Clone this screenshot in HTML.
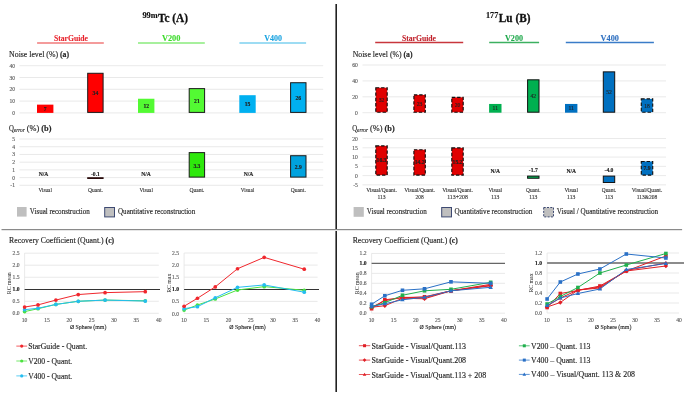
<!DOCTYPE html>
<html><head><meta charset="utf-8"><style>
html,body{margin:0;padding:0;background:#fff;overflow:hidden;}
svg{display:block;font-family:"Liberation Serif", serif;will-change:transform;}
</style></head><body>
<svg width="685" height="394" viewBox="0 0 685 394">
<rect width="685" height="394" fill="#fff"/>
<line x1="336.20" y1="4.00" x2="336.20" y2="392.00" stroke="#222" stroke-width="1.6" />
<line x1="1.50" y1="229.50" x2="682.10" y2="229.50" stroke="#8a8a8a" stroke-width="1" />
<line x1="1.50" y1="230.50" x2="682.10" y2="230.50" stroke="#e6e6e6" stroke-width="1" />
<text x="142.40" y="17.60" font-size="7.3" text-anchor="start" font-weight="bold" fill="#111"  textLength="15.20" lengthAdjust="spacingAndGlyphs" stroke="#111" stroke-width="0.15">99m</text>
<text x="158.00" y="21.50" font-size="11.6" text-anchor="start" font-weight="bold" fill="#111"  textLength="30.00" lengthAdjust="spacingAndGlyphs" stroke="#111" stroke-width="0.3">Tc (A)</text>
<text x="53.90" y="40.90" font-size="7.8" text-anchor="start" font-weight="bold" fill="#e8222b"  textLength="34.10" lengthAdjust="spacingAndGlyphs" stroke="#e8222b" stroke-width="0.08">StarGuide</text>
<line x1="37.10" y1="43.00" x2="103.80" y2="43.00" stroke="#f07a7a" stroke-width="1.6" />
<text x="161.90" y="40.90" font-size="7.8" text-anchor="start" font-weight="bold" fill="#3fdb2e"  textLength="18.60" lengthAdjust="spacingAndGlyphs" stroke="#3fdb2e" stroke-width="0.08">V200</text>
<line x1="138.00" y1="43.00" x2="204.80" y2="43.00" stroke="#8aeb7d" stroke-width="1.6" />
<text x="264.20" y="40.90" font-size="7.8" text-anchor="start" font-weight="bold" fill="#1aa3e0"  textLength="17.80" lengthAdjust="spacingAndGlyphs" stroke="#1aa3e0" stroke-width="0.08">V400</text>
<line x1="239.40" y1="43.00" x2="306.10" y2="43.00" stroke="#7dd0ef" stroke-width="1.6" />
<text x="9.10" y="56.60" font-size="8.2" text-anchor="start" font-weight="normal" fill="#262626"  textLength="60.00" lengthAdjust="spacingAndGlyphs" stroke="#262626" stroke-width="0.15">Noise level (%) <tspan font-weight="bold">(a)</tspan></text>
<line x1="19.50" y1="112.90" x2="323.20" y2="112.90" stroke="#e3e3e3" stroke-width="0.8" />
<text x="15.00" y="114.90" font-size="5.6" text-anchor="end" font-weight="normal" fill="#595959"  stroke="#595959" stroke-width="0.12">0</text>
<line x1="19.50" y1="101.10" x2="323.20" y2="101.10" stroke="#e3e3e3" stroke-width="0.8" />
<text x="15.00" y="103.10" font-size="5.6" text-anchor="end" font-weight="normal" fill="#595959"  stroke="#595959" stroke-width="0.12">10</text>
<line x1="19.50" y1="89.30" x2="323.20" y2="89.30" stroke="#e3e3e3" stroke-width="0.8" />
<text x="15.00" y="91.30" font-size="5.6" text-anchor="end" font-weight="normal" fill="#595959"  stroke="#595959" stroke-width="0.12">20</text>
<line x1="19.50" y1="77.50" x2="323.20" y2="77.50" stroke="#e3e3e3" stroke-width="0.8" />
<text x="15.00" y="79.50" font-size="5.6" text-anchor="end" font-weight="normal" fill="#595959"  stroke="#595959" stroke-width="0.12">30</text>
<line x1="19.50" y1="65.70" x2="323.20" y2="65.70" stroke="#e3e3e3" stroke-width="0.8" />
<text x="15.00" y="67.70" font-size="5.6" text-anchor="end" font-weight="normal" fill="#595959"  stroke="#595959" stroke-width="0.12">40</text>
<rect x="37.00" y="104.64" width="16.40" height="8.26" fill="#ff0000"/>
<text x="45.20" y="110.77" font-size="5.6" text-anchor="middle" font-weight="bold" fill="#222"  stroke="#222" stroke-width="0.15">7</text>
<rect x="87.70" y="73.28" width="15.40" height="39.12" fill="#ff0000" stroke="#1a1a1a" stroke-width="1"/>
<text x="95.40" y="94.84" font-size="5.6" text-anchor="middle" font-weight="bold" fill="#222"  stroke="#222" stroke-width="0.15">34</text>
<rect x="138.00" y="98.74" width="16.40" height="14.16" fill="#53fa33"/>
<text x="146.20" y="107.82" font-size="5.6" text-anchor="middle" font-weight="bold" fill="#222"  stroke="#222" stroke-width="0.15">12</text>
<rect x="189.20" y="88.62" width="15.40" height="23.78" fill="#53fa33" stroke="#1a1a1a" stroke-width="1"/>
<text x="196.90" y="102.51" font-size="5.6" text-anchor="middle" font-weight="bold" fill="#222"  stroke="#222" stroke-width="0.15">21</text>
<rect x="239.30" y="95.20" width="16.40" height="17.70" fill="#00b0f0"/>
<text x="247.50" y="106.05" font-size="5.6" text-anchor="middle" font-weight="bold" fill="#222"  stroke="#222" stroke-width="0.15">15</text>
<rect x="290.60" y="82.72" width="15.40" height="29.68" fill="#00b0f0" stroke="#1a1a1a" stroke-width="1"/>
<text x="298.30" y="99.56" font-size="5.6" text-anchor="middle" font-weight="bold" fill="#222"  stroke="#222" stroke-width="0.15">26</text>
<text x="9.00" y="130.90" font-size="7.8" text-anchor="start" font-weight="normal" fill="#262626"  textLength="4.90" lengthAdjust="spacingAndGlyphs" stroke="#262626" stroke-width="0.15">Q</text>
<text x="13.80" y="131.80" font-size="5.2" text-anchor="start" font-weight="normal" fill="#262626" font-style="italic" textLength="10.90" lengthAdjust="spacingAndGlyphs" stroke="#262626" stroke-width="0.12">error</text>
<text x="26.80" y="130.90" font-size="7.8" text-anchor="start" font-weight="normal" fill="#262626"  textLength="24.60" lengthAdjust="spacingAndGlyphs" stroke="#262626" stroke-width="0.15">(%) <tspan font-weight="bold">(b)</tspan></text>
<line x1="19.50" y1="185.32" x2="323.20" y2="185.32" stroke="#e3e3e3" stroke-width="0.8" />
<text x="15.00" y="187.32" font-size="5.6" text-anchor="end" font-weight="normal" fill="#595959"  stroke="#595959" stroke-width="0.12">-1</text>
<line x1="19.50" y1="177.60" x2="323.20" y2="177.60" stroke="#e3e3e3" stroke-width="0.8" />
<text x="15.00" y="179.60" font-size="5.6" text-anchor="end" font-weight="normal" fill="#595959"  stroke="#595959" stroke-width="0.12">0</text>
<line x1="19.50" y1="169.88" x2="323.20" y2="169.88" stroke="#e3e3e3" stroke-width="0.8" />
<text x="15.00" y="171.88" font-size="5.6" text-anchor="end" font-weight="normal" fill="#595959"  stroke="#595959" stroke-width="0.12">1</text>
<line x1="19.50" y1="162.16" x2="323.20" y2="162.16" stroke="#e3e3e3" stroke-width="0.8" />
<text x="15.00" y="164.16" font-size="5.6" text-anchor="end" font-weight="normal" fill="#595959"  stroke="#595959" stroke-width="0.12">2</text>
<line x1="19.50" y1="154.44" x2="323.20" y2="154.44" stroke="#e3e3e3" stroke-width="0.8" />
<text x="15.00" y="156.44" font-size="5.6" text-anchor="end" font-weight="normal" fill="#595959"  stroke="#595959" stroke-width="0.12">3</text>
<line x1="19.50" y1="146.72" x2="323.20" y2="146.72" stroke="#e3e3e3" stroke-width="0.8" />
<text x="15.00" y="148.72" font-size="5.6" text-anchor="end" font-weight="normal" fill="#595959"  stroke="#595959" stroke-width="0.12">4</text>
<line x1="19.50" y1="139.00" x2="323.20" y2="139.00" stroke="#e3e3e3" stroke-width="0.8" />
<text x="15.00" y="141.00" font-size="5.6" text-anchor="end" font-weight="normal" fill="#595959"  stroke="#595959" stroke-width="0.12">5</text>
<text x="43.50" y="175.60" font-size="5.6" text-anchor="middle" font-weight="bold" fill="#222"  textLength="9.60" lengthAdjust="spacingAndGlyphs" stroke="#222" stroke-width="0.15">N/A</text>
<rect x="87.20" y="177.20" width="16.40" height="1.80" fill="#2a0c0c"/>
<text x="95.40" y="175.70" font-size="5.6" text-anchor="middle" font-weight="bold" fill="#222"  stroke="#222" stroke-width="0.15">-0.1</text>
<text x="146.10" y="175.60" font-size="5.6" text-anchor="middle" font-weight="bold" fill="#222"  textLength="9.60" lengthAdjust="spacingAndGlyphs" stroke="#222" stroke-width="0.15">N/A</text>
<rect x="189.20" y="152.62" width="15.40" height="24.48" fill="#2ee80c" stroke="#1a1a1a" stroke-width="1"/>
<text x="196.90" y="167.76" font-size="5.6" text-anchor="middle" font-weight="bold" fill="#222"  stroke="#222" stroke-width="0.15">3.3</text>
<text x="248.50" y="175.60" font-size="5.6" text-anchor="middle" font-weight="bold" fill="#222"  textLength="9.60" lengthAdjust="spacingAndGlyphs" stroke="#222" stroke-width="0.15">N/A</text>
<rect x="290.60" y="155.71" width="15.40" height="21.39" fill="#00a2de" stroke="#1a1a1a" stroke-width="1"/>
<text x="298.30" y="168.51" font-size="5.6" text-anchor="middle" font-weight="bold" fill="#222"  stroke="#222" stroke-width="0.15">2.9</text>
<text x="45.20" y="191.70" font-size="5.9" text-anchor="middle" font-weight="normal" fill="#333"  textLength="13.30" lengthAdjust="spacingAndGlyphs" stroke="#333" stroke-width="0.12">Visual</text>
<text x="95.40" y="191.70" font-size="5.9" text-anchor="middle" font-weight="normal" fill="#333"  textLength="15.00" lengthAdjust="spacingAndGlyphs" stroke="#333" stroke-width="0.12">Quant.</text>
<text x="146.20" y="191.70" font-size="5.9" text-anchor="middle" font-weight="normal" fill="#333"  textLength="13.30" lengthAdjust="spacingAndGlyphs" stroke="#333" stroke-width="0.12">Visual</text>
<text x="196.90" y="191.70" font-size="5.9" text-anchor="middle" font-weight="normal" fill="#333"  textLength="15.00" lengthAdjust="spacingAndGlyphs" stroke="#333" stroke-width="0.12">Quant.</text>
<text x="247.50" y="191.70" font-size="5.9" text-anchor="middle" font-weight="normal" fill="#333"  textLength="13.30" lengthAdjust="spacingAndGlyphs" stroke="#333" stroke-width="0.12">Visual</text>
<text x="298.30" y="191.70" font-size="5.9" text-anchor="middle" font-weight="normal" fill="#333"  textLength="15.00" lengthAdjust="spacingAndGlyphs" stroke="#333" stroke-width="0.12">Quant.</text>
<rect x="17.00" y="207.00" width="9.60" height="9.60" fill="#bfbfbf"/>
<text x="29.80" y="214.40" font-size="8.0" text-anchor="start" font-weight="normal" fill="#262626"  textLength="60.00" lengthAdjust="spacingAndGlyphs" stroke="#262626" stroke-width="0.15">Visual reconstruction</text>
<rect x="104.70" y="207.50" width="9.80" height="9.40" fill="#bfbfbf" stroke="#3e4a72" stroke-width="1"/>
<text x="118.00" y="214.40" font-size="8.0" text-anchor="start" font-weight="normal" fill="#262626"  textLength="77.20" lengthAdjust="spacingAndGlyphs" stroke="#262626" stroke-width="0.15">Quantitative reconstruction</text>
<text x="486.00" y="17.60" font-size="7.3" text-anchor="start" font-weight="bold" fill="#111"  textLength="12.20" lengthAdjust="spacingAndGlyphs" stroke="#111" stroke-width="0.15">177</text>
<text x="498.80" y="21.50" font-size="11.6" text-anchor="start" font-weight="bold" fill="#111"  textLength="31.60" lengthAdjust="spacingAndGlyphs" stroke="#111" stroke-width="0.3">Lu (B)</text>
<text x="401.90" y="40.90" font-size="7.8" text-anchor="start" font-weight="bold" fill="#c0202a"  textLength="34.10" lengthAdjust="spacingAndGlyphs" stroke="#c0202a" stroke-width="0.08">StarGuide</text>
<line x1="375.20" y1="42.50" x2="463.20" y2="42.50" stroke="#c8363c" stroke-width="1.6" />
<text x="505.00" y="40.90" font-size="7.8" text-anchor="start" font-weight="bold" fill="#21a94d"  textLength="18.00" lengthAdjust="spacingAndGlyphs" stroke="#21a94d" stroke-width="0.08">V200</text>
<line x1="489.20" y1="42.50" x2="539.10" y2="42.50" stroke="#3cb060" stroke-width="1.6" />
<text x="600.60" y="40.90" font-size="7.8" text-anchor="start" font-weight="bold" fill="#2d6fc0"  textLength="18.40" lengthAdjust="spacingAndGlyphs" stroke="#2d6fc0" stroke-width="0.08">V400</text>
<line x1="565.80" y1="42.50" x2="653.90" y2="42.50" stroke="#3a7cc8" stroke-width="1.6" />
<text x="352.70" y="56.60" font-size="8.2" text-anchor="start" font-weight="normal" fill="#262626"  textLength="59.90" lengthAdjust="spacingAndGlyphs" stroke="#262626" stroke-width="0.15">Noise level (%) <tspan font-weight="bold">(a)</tspan></text>
<line x1="362.50" y1="112.70" x2="666.00" y2="112.70" stroke="#e3e3e3" stroke-width="0.8" />
<text x="357.80" y="114.70" font-size="5.6" text-anchor="end" font-weight="normal" fill="#595959"  stroke="#595959" stroke-width="0.12">0</text>
<line x1="362.50" y1="96.80" x2="666.00" y2="96.80" stroke="#e3e3e3" stroke-width="0.8" />
<text x="357.80" y="98.80" font-size="5.6" text-anchor="end" font-weight="normal" fill="#595959"  stroke="#595959" stroke-width="0.12">20</text>
<line x1="362.50" y1="80.90" x2="666.00" y2="80.90" stroke="#e3e3e3" stroke-width="0.8" />
<text x="357.80" y="82.90" font-size="5.6" text-anchor="end" font-weight="normal" fill="#595959"  stroke="#595959" stroke-width="0.12">40</text>
<line x1="362.50" y1="65.00" x2="666.00" y2="65.00" stroke="#e3e3e3" stroke-width="0.8" />
<text x="357.80" y="67.00" font-size="5.6" text-anchor="end" font-weight="normal" fill="#595959"  stroke="#595959" stroke-width="0.12">60</text>
<rect x="375.80" y="87.76" width="11.40" height="24.44" fill="#e00000" stroke="#111" stroke-width="1.15" stroke-dasharray="3.4,1.9"/>
<text x="381.50" y="101.98" font-size="5.6" text-anchor="middle" font-weight="normal" fill="#222"  stroke="#222" stroke-width="0.12">32</text>
<rect x="413.90" y="94.92" width="11.40" height="17.29" fill="#e00000" stroke="#111" stroke-width="1.15" stroke-dasharray="3.4,1.9"/>
<text x="419.60" y="105.56" font-size="5.6" text-anchor="middle" font-weight="normal" fill="#222"  stroke="#222" stroke-width="0.12">23</text>
<rect x="451.80" y="97.30" width="11.40" height="14.90" fill="#e00000" stroke="#111" stroke-width="1.15" stroke-dasharray="3.4,1.9"/>
<text x="457.50" y="106.75" font-size="5.6" text-anchor="middle" font-weight="normal" fill="#222"  stroke="#222" stroke-width="0.12">20</text>
<rect x="489.10" y="103.95" width="12.40" height="8.75" fill="#00b050"/>
<text x="495.30" y="110.33" font-size="5.6" text-anchor="middle" font-weight="normal" fill="#222"  stroke="#222" stroke-width="0.12">11</text>
<rect x="527.60" y="79.81" width="11.40" height="32.39" fill="#00b050" stroke="#111" stroke-width="1"/>
<text x="533.30" y="98.00" font-size="5.6" text-anchor="middle" font-weight="normal" fill="#222"  stroke="#222" stroke-width="0.12">42</text>
<rect x="565.00" y="103.95" width="12.40" height="8.75" fill="#0070c0"/>
<text x="571.20" y="110.33" font-size="5.6" text-anchor="middle" font-weight="normal" fill="#222"  stroke="#222" stroke-width="0.12">11</text>
<rect x="603.30" y="71.86" width="11.40" height="40.34" fill="#0070c0" stroke="#111" stroke-width="1"/>
<text x="609.00" y="94.03" font-size="5.6" text-anchor="middle" font-weight="normal" fill="#222"  stroke="#222" stroke-width="0.12">52</text>
<rect x="641.30" y="98.89" width="11.40" height="13.31" fill="#0070c0" stroke="#111" stroke-width="1.15" stroke-dasharray="3.4,1.9"/>
<text x="647.00" y="107.55" font-size="5.6" text-anchor="middle" font-weight="normal" fill="#222"  stroke="#222" stroke-width="0.12">18</text>
<text x="352.30" y="130.90" font-size="7.8" text-anchor="start" font-weight="normal" fill="#262626"  textLength="4.90" lengthAdjust="spacingAndGlyphs" stroke="#262626" stroke-width="0.15">Q</text>
<text x="357.10" y="131.80" font-size="5.2" text-anchor="start" font-weight="normal" fill="#262626" font-style="italic" textLength="10.90" lengthAdjust="spacingAndGlyphs" stroke="#262626" stroke-width="0.12">error</text>
<text x="370.10" y="130.90" font-size="7.8" text-anchor="start" font-weight="normal" fill="#262626"  textLength="24.60" lengthAdjust="spacingAndGlyphs" stroke="#262626" stroke-width="0.15">(%) <tspan font-weight="bold">(b)</tspan></text>
<line x1="362.50" y1="184.87" x2="666.00" y2="184.87" stroke="#e3e3e3" stroke-width="0.8" />
<text x="357.80" y="186.87" font-size="5.6" text-anchor="end" font-weight="normal" fill="#595959"  stroke="#595959" stroke-width="0.12">-5</text>
<line x1="362.50" y1="175.60" x2="666.00" y2="175.60" stroke="#e3e3e3" stroke-width="0.8" />
<text x="357.80" y="177.60" font-size="5.6" text-anchor="end" font-weight="normal" fill="#595959"  stroke="#595959" stroke-width="0.12">0</text>
<line x1="362.50" y1="166.33" x2="666.00" y2="166.33" stroke="#e3e3e3" stroke-width="0.8" />
<text x="357.80" y="168.33" font-size="5.6" text-anchor="end" font-weight="normal" fill="#595959"  stroke="#595959" stroke-width="0.12">5</text>
<line x1="362.50" y1="157.06" x2="666.00" y2="157.06" stroke="#e3e3e3" stroke-width="0.8" />
<text x="357.80" y="159.06" font-size="5.6" text-anchor="end" font-weight="normal" fill="#595959"  stroke="#595959" stroke-width="0.12">10</text>
<line x1="362.50" y1="147.79" x2="666.00" y2="147.79" stroke="#e3e3e3" stroke-width="0.8" />
<text x="357.80" y="149.79" font-size="5.6" text-anchor="end" font-weight="normal" fill="#595959"  stroke="#595959" stroke-width="0.12">15</text>
<line x1="362.50" y1="138.52" x2="666.00" y2="138.52" stroke="#e3e3e3" stroke-width="0.8" />
<text x="357.80" y="140.52" font-size="5.6" text-anchor="end" font-weight="normal" fill="#595959"  stroke="#595959" stroke-width="0.12">20</text>
<rect x="375.80" y="145.88" width="11.40" height="29.22" fill="#e00000" stroke="#111" stroke-width="1.15" stroke-dasharray="3.4,1.9"/>
<text x="381.50" y="162.49" font-size="5.6" text-anchor="middle" font-weight="bold" fill="#222"  stroke="#222" stroke-width="0.15">16.3</text>
<rect x="413.90" y="149.77" width="11.40" height="25.33" fill="#e00000" stroke="#111" stroke-width="1.15" stroke-dasharray="3.4,1.9"/>
<text x="419.60" y="164.44" font-size="5.6" text-anchor="middle" font-weight="bold" fill="#222"  stroke="#222" stroke-width="0.15">14.2</text>
<rect x="451.80" y="147.92" width="11.40" height="27.18" fill="#e00000" stroke="#111" stroke-width="1.15" stroke-dasharray="3.4,1.9"/>
<text x="457.50" y="163.51" font-size="5.6" text-anchor="middle" font-weight="bold" fill="#222"  stroke="#222" stroke-width="0.15">15.2</text>
<text x="495.30" y="172.60" font-size="5.6" text-anchor="middle" font-weight="bold" fill="#222"  textLength="9.60" lengthAdjust="spacingAndGlyphs" stroke="#222" stroke-width="0.15">N/A</text>
<rect x="527.60" y="176.10" width="11.40" height="2.15" fill="#00b050" stroke="#111" stroke-width="1"/>
<text x="533.30" y="172.40" font-size="5.6" text-anchor="middle" font-weight="bold" fill="#222"  stroke="#222" stroke-width="0.15">-1.7</text>
<text x="571.20" y="172.60" font-size="5.6" text-anchor="middle" font-weight="bold" fill="#222"  textLength="9.60" lengthAdjust="spacingAndGlyphs" stroke="#222" stroke-width="0.15">N/A</text>
<rect x="603.30" y="176.10" width="11.40" height="6.42" fill="#0070c0" stroke="#111" stroke-width="1"/>
<text x="609.00" y="172.40" font-size="5.6" text-anchor="middle" font-weight="bold" fill="#222"  stroke="#222" stroke-width="0.15">-4.0</text>
<rect x="641.30" y="161.45" width="11.40" height="13.65" fill="#0070c0" stroke="#111" stroke-width="1.15" stroke-dasharray="3.4,1.9"/>
<text x="647.00" y="170.28" font-size="5.6" text-anchor="middle" font-weight="bold" fill="#222"  stroke="#222" stroke-width="0.15">7.9</text>
<text x="381.50" y="191.80" font-size="5.9" text-anchor="middle" font-weight="normal" fill="#333"  textLength="30.60" lengthAdjust="spacingAndGlyphs" stroke="#333" stroke-width="0.12">Visual/Quant.</text>
<text x="381.50" y="198.90" font-size="5.9" text-anchor="middle" font-weight="normal" fill="#333"  textLength="8.20" lengthAdjust="spacingAndGlyphs" stroke="#333" stroke-width="0.12">113</text>
<text x="419.60" y="191.80" font-size="5.9" text-anchor="middle" font-weight="normal" fill="#333"  textLength="30.60" lengthAdjust="spacingAndGlyphs" stroke="#333" stroke-width="0.12">Visual/Quant.</text>
<text x="419.60" y="198.90" font-size="5.9" text-anchor="middle" font-weight="normal" fill="#333"  textLength="8.20" lengthAdjust="spacingAndGlyphs" stroke="#333" stroke-width="0.12">208</text>
<text x="457.50" y="191.80" font-size="5.9" text-anchor="middle" font-weight="normal" fill="#333"  textLength="30.60" lengthAdjust="spacingAndGlyphs" stroke="#333" stroke-width="0.12">Visual/Quant.</text>
<text x="457.50" y="198.90" font-size="5.9" text-anchor="middle" font-weight="normal" fill="#333"  textLength="20.70" lengthAdjust="spacingAndGlyphs" stroke="#333" stroke-width="0.12">113+208</text>
<text x="495.30" y="191.80" font-size="5.9" text-anchor="middle" font-weight="normal" fill="#333"  textLength="13.50" lengthAdjust="spacingAndGlyphs" stroke="#333" stroke-width="0.12">Visual</text>
<text x="495.30" y="198.90" font-size="5.9" text-anchor="middle" font-weight="normal" fill="#333"  textLength="8.20" lengthAdjust="spacingAndGlyphs" stroke="#333" stroke-width="0.12">113</text>
<text x="533.30" y="191.80" font-size="5.9" text-anchor="middle" font-weight="normal" fill="#333"  textLength="14.50" lengthAdjust="spacingAndGlyphs" stroke="#333" stroke-width="0.12">Quant.</text>
<text x="533.30" y="198.90" font-size="5.9" text-anchor="middle" font-weight="normal" fill="#333"  textLength="8.20" lengthAdjust="spacingAndGlyphs" stroke="#333" stroke-width="0.12">113</text>
<text x="571.20" y="191.80" font-size="5.9" text-anchor="middle" font-weight="normal" fill="#333"  textLength="13.50" lengthAdjust="spacingAndGlyphs" stroke="#333" stroke-width="0.12">Visual</text>
<text x="571.20" y="198.90" font-size="5.9" text-anchor="middle" font-weight="normal" fill="#333"  textLength="8.20" lengthAdjust="spacingAndGlyphs" stroke="#333" stroke-width="0.12">113</text>
<text x="609.00" y="191.80" font-size="5.9" text-anchor="middle" font-weight="normal" fill="#333"  textLength="14.50" lengthAdjust="spacingAndGlyphs" stroke="#333" stroke-width="0.12">Quant.</text>
<text x="609.00" y="198.90" font-size="5.9" text-anchor="middle" font-weight="normal" fill="#333"  textLength="8.20" lengthAdjust="spacingAndGlyphs" stroke="#333" stroke-width="0.12">113</text>
<text x="647.00" y="191.80" font-size="5.9" text-anchor="middle" font-weight="normal" fill="#333"  textLength="30.60" lengthAdjust="spacingAndGlyphs" stroke="#333" stroke-width="0.12">Visual/Quant.</text>
<text x="647.00" y="198.90" font-size="5.9" text-anchor="middle" font-weight="normal" fill="#333"  textLength="20.60" lengthAdjust="spacingAndGlyphs" stroke="#333" stroke-width="0.12">113&amp;208</text>
<rect x="353.60" y="207.00" width="10.20" height="9.80" fill="#bfbfbf"/>
<text x="366.80" y="214.40" font-size="8.0" text-anchor="start" font-weight="normal" fill="#262626"  textLength="60.00" lengthAdjust="spacingAndGlyphs" stroke="#262626" stroke-width="0.15">Visual reconstruction</text>
<rect x="441.70" y="207.50" width="9.80" height="9.40" fill="#bfbfbf" stroke="#3e4a72" stroke-width="1"/>
<text x="454.60" y="214.40" font-size="8.0" text-anchor="start" font-weight="normal" fill="#262626"  textLength="77.80" lengthAdjust="spacingAndGlyphs" stroke="#262626" stroke-width="0.15">Quantitative reconstruction</text>
<rect x="543.70" y="207.50" width="9.80" height="9.40" fill="#bfbfbf" stroke="#3e4a72" stroke-width="1" stroke-dasharray="2,1.3"/>
<text x="556.80" y="214.40" font-size="8.0" text-anchor="start" font-weight="normal" fill="#262626"  textLength="101.30" lengthAdjust="spacingAndGlyphs" stroke="#262626" stroke-width="0.15">Visual / Quantitative reconstruction</text>
<text x="9.10" y="242.70" font-size="8.2" text-anchor="start" font-weight="normal" fill="#262626"  textLength="105.10" lengthAdjust="spacingAndGlyphs" stroke="#262626" stroke-width="0.15">Recovery Coefficient (Quant.) <tspan font-weight="bold">(c)</tspan></text>
<text x="352.70" y="242.70" font-size="8.2" text-anchor="start" font-weight="normal" fill="#262626"  textLength="105.10" lengthAdjust="spacingAndGlyphs" stroke="#262626" stroke-width="0.15">Recovery Coefficient (Quant.) <tspan font-weight="bold">(c)</tspan></text>
<line x1="24.60" y1="313.30" x2="158.80" y2="313.30" stroke="#e3e3e3" stroke-width="0.8" />
<line x1="24.60" y1="301.28" x2="158.80" y2="301.28" stroke="#e3e3e3" stroke-width="0.8" />
<line x1="24.60" y1="277.24" x2="158.80" y2="277.24" stroke="#e3e3e3" stroke-width="0.8" />
<line x1="24.60" y1="265.22" x2="158.80" y2="265.22" stroke="#e3e3e3" stroke-width="0.8" />
<line x1="24.60" y1="253.20" x2="158.80" y2="253.20" stroke="#e3e3e3" stroke-width="0.8" />
<text x="19.60" y="315.30" font-size="5.6" text-anchor="end" font-weight="normal" fill="#595959"  stroke="#595959" stroke-width="0.12">0.0</text>
<text x="19.60" y="303.28" font-size="5.6" text-anchor="end" font-weight="normal" fill="#595959"  stroke="#595959" stroke-width="0.12">0.5</text>
<text x="19.60" y="291.26" font-size="5.6" text-anchor="end" font-weight="bold" fill="#222"  stroke="#222" stroke-width="0.15">1.0</text>
<text x="19.60" y="279.24" font-size="5.6" text-anchor="end" font-weight="normal" fill="#595959"  stroke="#595959" stroke-width="0.12">1.5</text>
<text x="19.60" y="267.22" font-size="5.6" text-anchor="end" font-weight="normal" fill="#595959"  stroke="#595959" stroke-width="0.12">2.0</text>
<text x="19.60" y="255.20" font-size="5.6" text-anchor="end" font-weight="normal" fill="#595959"  stroke="#595959" stroke-width="0.12">2.5</text>
<line x1="24.60" y1="253.20" x2="24.60" y2="313.30" stroke="#e3e3e3" stroke-width="0.8" />
<text x="24.60" y="322.00" font-size="5.6" text-anchor="middle" font-weight="normal" fill="#595959"  stroke="#595959" stroke-width="0.12">10</text>
<text x="46.95" y="322.00" font-size="5.6" text-anchor="middle" font-weight="normal" fill="#595959"  stroke="#595959" stroke-width="0.12">15</text>
<text x="69.30" y="322.00" font-size="5.6" text-anchor="middle" font-weight="normal" fill="#595959"  stroke="#595959" stroke-width="0.12">20</text>
<text x="91.65" y="322.00" font-size="5.6" text-anchor="middle" font-weight="normal" fill="#595959"  stroke="#595959" stroke-width="0.12">25</text>
<text x="114.00" y="322.00" font-size="5.6" text-anchor="middle" font-weight="normal" fill="#595959"  stroke="#595959" stroke-width="0.12">30</text>
<text x="136.35" y="322.00" font-size="5.6" text-anchor="middle" font-weight="normal" fill="#595959"  stroke="#595959" stroke-width="0.12">35</text>
<text x="158.70" y="322.00" font-size="5.6" text-anchor="middle" font-weight="normal" fill="#595959"  stroke="#595959" stroke-width="0.12">40</text>
<text x="88.15" y="328.70" font-size="6.2" text-anchor="middle" font-weight="normal" fill="#262626"  textLength="36.50" lengthAdjust="spacingAndGlyphs" stroke="#262626" stroke-width="0.12">Ø Sphere (mm)</text>
<text x="0" y="0" font-size="5.8" fill="#262626" text-anchor="middle" transform="translate(11.0,283.25) rotate(-90)">RC mean</text>
<line x1="24.60" y1="289.50" x2="160.00" y2="289.50" stroke="#333" stroke-width="1.0" />
<polyline points="24.60,311.62 38.01,308.73 55.89,304.41 78.24,301.28 105.06,300.08 145.29,300.80" fill="none" stroke="#4be23f" stroke-width="1"/>
<circle cx="24.60" cy="311.62" r="1.85" fill="#4be23f"/>
<circle cx="38.01" cy="308.73" r="1.85" fill="#4be23f"/>
<circle cx="55.89" cy="304.41" r="1.85" fill="#4be23f"/>
<circle cx="78.24" cy="301.28" r="1.85" fill="#4be23f"/>
<circle cx="105.06" cy="300.08" r="1.85" fill="#4be23f"/>
<circle cx="145.29" cy="300.80" r="1.85" fill="#4be23f"/>
<polyline points="24.60,309.69 38.01,308.25 55.89,304.41 78.24,301.28 105.06,300.08 145.29,301.04" fill="none" stroke="#25bdf0" stroke-width="1"/>
<circle cx="24.60" cy="309.69" r="1.85" fill="#25bdf0"/>
<circle cx="38.01" cy="308.25" r="1.85" fill="#25bdf0"/>
<circle cx="55.89" cy="304.41" r="1.85" fill="#25bdf0"/>
<circle cx="78.24" cy="301.28" r="1.85" fill="#25bdf0"/>
<circle cx="105.06" cy="300.08" r="1.85" fill="#25bdf0"/>
<circle cx="145.29" cy="301.04" r="1.85" fill="#25bdf0"/>
<polyline points="24.60,307.05 38.01,304.89 55.89,300.08 78.24,294.55 105.06,292.63 145.29,291.66" fill="none" stroke="#f0272d" stroke-width="1"/>
<circle cx="24.60" cy="307.05" r="1.85" fill="#f0272d"/>
<circle cx="38.01" cy="304.89" r="1.85" fill="#f0272d"/>
<circle cx="55.89" cy="300.08" r="1.85" fill="#f0272d"/>
<circle cx="78.24" cy="294.55" r="1.85" fill="#f0272d"/>
<circle cx="105.06" cy="292.63" r="1.85" fill="#f0272d"/>
<circle cx="145.29" cy="291.66" r="1.85" fill="#f0272d"/>
<line x1="184.10" y1="313.50" x2="317.60" y2="313.50" stroke="#e3e3e3" stroke-width="0.8" />
<line x1="184.10" y1="301.40" x2="317.60" y2="301.40" stroke="#e3e3e3" stroke-width="0.8" />
<line x1="184.10" y1="277.20" x2="317.60" y2="277.20" stroke="#e3e3e3" stroke-width="0.8" />
<line x1="184.10" y1="265.10" x2="317.60" y2="265.10" stroke="#e3e3e3" stroke-width="0.8" />
<line x1="184.10" y1="253.00" x2="317.60" y2="253.00" stroke="#e3e3e3" stroke-width="0.8" />
<text x="179.10" y="315.50" font-size="5.6" text-anchor="end" font-weight="normal" fill="#595959"  stroke="#595959" stroke-width="0.12">0.0</text>
<text x="179.10" y="303.40" font-size="5.6" text-anchor="end" font-weight="normal" fill="#595959"  stroke="#595959" stroke-width="0.12">0.5</text>
<text x="179.10" y="291.30" font-size="5.6" text-anchor="end" font-weight="bold" fill="#222"  stroke="#222" stroke-width="0.15">1.0</text>
<text x="179.10" y="279.20" font-size="5.6" text-anchor="end" font-weight="normal" fill="#595959"  stroke="#595959" stroke-width="0.12">1.5</text>
<text x="179.10" y="267.10" font-size="5.6" text-anchor="end" font-weight="normal" fill="#595959"  stroke="#595959" stroke-width="0.12">2.0</text>
<text x="179.10" y="255.00" font-size="5.6" text-anchor="end" font-weight="normal" fill="#595959"  stroke="#595959" stroke-width="0.12">2.5</text>
<line x1="184.10" y1="253.00" x2="184.10" y2="313.50" stroke="#e3e3e3" stroke-width="0.8" />
<text x="184.10" y="322.00" font-size="5.6" text-anchor="middle" font-weight="normal" fill="#595959"  stroke="#595959" stroke-width="0.12">10</text>
<text x="206.35" y="322.00" font-size="5.6" text-anchor="middle" font-weight="normal" fill="#595959"  stroke="#595959" stroke-width="0.12">15</text>
<text x="228.60" y="322.00" font-size="5.6" text-anchor="middle" font-weight="normal" fill="#595959"  stroke="#595959" stroke-width="0.12">20</text>
<text x="250.85" y="322.00" font-size="5.6" text-anchor="middle" font-weight="normal" fill="#595959"  stroke="#595959" stroke-width="0.12">25</text>
<text x="273.10" y="322.00" font-size="5.6" text-anchor="middle" font-weight="normal" fill="#595959"  stroke="#595959" stroke-width="0.12">30</text>
<text x="295.35" y="322.00" font-size="5.6" text-anchor="middle" font-weight="normal" fill="#595959"  stroke="#595959" stroke-width="0.12">35</text>
<text x="317.60" y="322.00" font-size="5.6" text-anchor="middle" font-weight="normal" fill="#595959"  stroke="#595959" stroke-width="0.12">40</text>
<text x="247.55" y="328.70" font-size="6.2" text-anchor="middle" font-weight="normal" fill="#262626"  textLength="36.50" lengthAdjust="spacingAndGlyphs" stroke="#262626" stroke-width="0.12">Ø Sphere (mm)</text>
<text x="0" y="0" font-size="5.8" fill="#262626" text-anchor="middle" transform="translate(171.0,283.25) rotate(-90)">RC max</text>
<line x1="184.10" y1="289.50" x2="319.00" y2="289.50" stroke="#333" stroke-width="1.0" />
<polyline points="184.10,310.11 197.45,305.03 215.25,298.98 237.50,290.03 264.20,286.64 304.25,290.27" fill="none" stroke="#4be23f" stroke-width="1"/>
<circle cx="184.10" cy="310.11" r="1.85" fill="#4be23f"/>
<circle cx="197.45" cy="305.03" r="1.85" fill="#4be23f"/>
<circle cx="215.25" cy="298.98" r="1.85" fill="#4be23f"/>
<circle cx="237.50" cy="290.03" r="1.85" fill="#4be23f"/>
<circle cx="264.20" cy="286.64" r="1.85" fill="#4be23f"/>
<circle cx="304.25" cy="290.27" r="1.85" fill="#4be23f"/>
<polyline points="184.10,308.66 197.45,306.72 215.25,297.77 237.50,287.36 264.20,284.94 304.25,292.20" fill="none" stroke="#25bdf0" stroke-width="1"/>
<circle cx="184.10" cy="308.66" r="1.85" fill="#25bdf0"/>
<circle cx="197.45" cy="306.72" r="1.85" fill="#25bdf0"/>
<circle cx="215.25" cy="297.77" r="1.85" fill="#25bdf0"/>
<circle cx="237.50" cy="287.36" r="1.85" fill="#25bdf0"/>
<circle cx="264.20" cy="284.94" r="1.85" fill="#25bdf0"/>
<circle cx="304.25" cy="292.20" r="1.85" fill="#25bdf0"/>
<polyline points="184.10,306.24 197.45,298.25 215.25,286.88 237.50,268.73 264.20,257.36 304.25,269.21" fill="none" stroke="#f0272d" stroke-width="1"/>
<circle cx="184.10" cy="306.24" r="1.85" fill="#f0272d"/>
<circle cx="197.45" cy="298.25" r="1.85" fill="#f0272d"/>
<circle cx="215.25" cy="286.88" r="1.85" fill="#f0272d"/>
<circle cx="237.50" cy="268.73" r="1.85" fill="#f0272d"/>
<circle cx="264.20" cy="257.36" r="1.85" fill="#f0272d"/>
<circle cx="304.25" cy="269.21" r="1.85" fill="#f0272d"/>
<line x1="371.60" y1="313.20" x2="505.00" y2="313.20" stroke="#e3e3e3" stroke-width="0.8" />
<line x1="371.60" y1="303.24" x2="505.00" y2="303.24" stroke="#e3e3e3" stroke-width="0.8" />
<line x1="371.60" y1="293.28" x2="505.00" y2="293.28" stroke="#e3e3e3" stroke-width="0.8" />
<line x1="371.60" y1="283.32" x2="505.00" y2="283.32" stroke="#e3e3e3" stroke-width="0.8" />
<line x1="371.60" y1="273.36" x2="505.00" y2="273.36" stroke="#e3e3e3" stroke-width="0.8" />
<line x1="371.60" y1="253.44" x2="505.00" y2="253.44" stroke="#e3e3e3" stroke-width="0.8" />
<text x="366.60" y="315.20" font-size="5.6" text-anchor="end" font-weight="normal" fill="#595959"  stroke="#595959" stroke-width="0.12">0.0</text>
<text x="366.60" y="305.24" font-size="5.6" text-anchor="end" font-weight="normal" fill="#595959"  stroke="#595959" stroke-width="0.12">0.2</text>
<text x="366.60" y="295.28" font-size="5.6" text-anchor="end" font-weight="normal" fill="#595959"  stroke="#595959" stroke-width="0.12">0.4</text>
<text x="366.60" y="285.32" font-size="5.6" text-anchor="end" font-weight="normal" fill="#595959"  stroke="#595959" stroke-width="0.12">0.6</text>
<text x="366.60" y="275.36" font-size="5.6" text-anchor="end" font-weight="normal" fill="#595959"  stroke="#595959" stroke-width="0.12">0.8</text>
<text x="366.60" y="265.40" font-size="5.6" text-anchor="end" font-weight="bold" fill="#222"  stroke="#222" stroke-width="0.15">1.0</text>
<text x="366.60" y="255.44" font-size="5.6" text-anchor="end" font-weight="normal" fill="#595959"  stroke="#595959" stroke-width="0.12">1.2</text>
<line x1="371.60" y1="253.44" x2="371.60" y2="313.20" stroke="#e3e3e3" stroke-width="0.8" />
<text x="371.60" y="322.00" font-size="5.6" text-anchor="middle" font-weight="normal" fill="#595959"  stroke="#595959" stroke-width="0.12">10</text>
<text x="393.65" y="322.00" font-size="5.6" text-anchor="middle" font-weight="normal" fill="#595959"  stroke="#595959" stroke-width="0.12">15</text>
<text x="415.70" y="322.00" font-size="5.6" text-anchor="middle" font-weight="normal" fill="#595959"  stroke="#595959" stroke-width="0.12">20</text>
<text x="437.75" y="322.00" font-size="5.6" text-anchor="middle" font-weight="normal" fill="#595959"  stroke="#595959" stroke-width="0.12">25</text>
<text x="459.80" y="322.00" font-size="5.6" text-anchor="middle" font-weight="normal" fill="#595959"  stroke="#595959" stroke-width="0.12">30</text>
<text x="481.85" y="322.00" font-size="5.6" text-anchor="middle" font-weight="normal" fill="#595959"  stroke="#595959" stroke-width="0.12">35</text>
<text x="503.90" y="322.00" font-size="5.6" text-anchor="middle" font-weight="normal" fill="#595959"  stroke="#595959" stroke-width="0.12">40</text>
<text x="437.75" y="328.70" font-size="6.2" text-anchor="middle" font-weight="normal" fill="#262626"  textLength="36.50" lengthAdjust="spacingAndGlyphs" stroke="#262626" stroke-width="0.12">Ø Sphere (mm)</text>
<text x="0" y="0" font-size="5.8" fill="#262626" text-anchor="middle" transform="translate(359.0,283.32) rotate(-90)">RC mean</text>
<line x1="371.60" y1="263.40" x2="505.00" y2="263.40" stroke="#666" stroke-width="1.4" />
<polyline points="371.60,307.22 384.83,305.73 402.47,298.26 424.52,298.76 450.98,290.79 490.67,285.81" fill="none" stroke="#e01f26" stroke-width="1"/>
<path d="M371.60,305.02 L373.80,307.22 L371.60,309.42 L369.40,307.22Z" fill="#e01f26"/>
<path d="M384.83,303.53 L387.03,305.73 L384.83,307.93 L382.63,305.73Z" fill="#e01f26"/>
<path d="M402.47,296.06 L404.67,298.26 L402.47,300.46 L400.27,298.26Z" fill="#e01f26"/>
<path d="M424.52,296.56 L426.72,298.76 L424.52,300.96 L422.32,298.76Z" fill="#e01f26"/>
<path d="M450.98,288.59 L453.18,290.79 L450.98,292.99 L448.78,290.79Z" fill="#e01f26"/>
<path d="M490.67,283.61 L492.87,285.81 L490.67,288.01 L488.47,285.81Z" fill="#e01f26"/>
<polyline points="371.60,307.22 384.83,300.75 402.47,297.26 424.52,297.76 450.98,290.79 490.67,284.32" fill="none" stroke="#e01f26" stroke-width="1"/>
<path d="M371.60,305.02 L373.80,308.82 L369.40,308.82Z" fill="#e01f26"/>
<path d="M384.83,298.55 L387.03,302.35 L382.63,302.35Z" fill="#e01f26"/>
<path d="M402.47,295.06 L404.67,298.86 L400.27,298.86Z" fill="#e01f26"/>
<path d="M424.52,295.56 L426.72,299.36 L422.32,299.36Z" fill="#e01f26"/>
<path d="M450.98,288.59 L453.18,292.39 L448.78,292.39Z" fill="#e01f26"/>
<path d="M490.67,282.12 L492.87,285.92 L488.47,285.92Z" fill="#e01f26"/>
<polyline points="371.60,308.72 384.83,299.75 402.47,297.76 424.52,296.77 450.98,290.79 490.67,285.31" fill="none" stroke="#e01f26" stroke-width="1"/>
<rect x="369.80" y="306.92" width="3.6" height="3.6" fill="#e01f26"/>
<rect x="383.03" y="297.95" width="3.6" height="3.6" fill="#e01f26"/>
<rect x="400.67" y="295.96" width="3.6" height="3.6" fill="#e01f26"/>
<rect x="422.72" y="294.97" width="3.6" height="3.6" fill="#e01f26"/>
<rect x="449.18" y="288.99" width="3.6" height="3.6" fill="#e01f26"/>
<rect x="488.87" y="283.51" width="3.6" height="3.6" fill="#e01f26"/>
<polyline points="371.60,306.73 384.83,302.74 402.47,295.27 424.52,290.79 450.98,289.30 490.67,282.32" fill="none" stroke="#21b04e" stroke-width="1"/>
<rect x="369.80" y="304.93" width="3.6" height="3.6" fill="#21b04e"/>
<rect x="383.03" y="300.94" width="3.6" height="3.6" fill="#21b04e"/>
<rect x="400.67" y="293.47" width="3.6" height="3.6" fill="#21b04e"/>
<rect x="422.72" y="288.99" width="3.6" height="3.6" fill="#21b04e"/>
<rect x="449.18" y="287.50" width="3.6" height="3.6" fill="#21b04e"/>
<rect x="488.87" y="280.52" width="3.6" height="3.6" fill="#21b04e"/>
<polyline points="371.60,306.48 384.83,303.74 402.47,299.75 424.52,297.26 450.98,290.79 490.67,287.30" fill="none" stroke="#2a70c6" stroke-width="1"/>
<path d="M371.60,304.28 L373.80,308.08 L369.40,308.08Z" fill="#2a70c6"/>
<path d="M384.83,301.54 L387.03,305.34 L382.63,305.34Z" fill="#2a70c6"/>
<path d="M402.47,297.55 L404.67,301.35 L400.27,301.35Z" fill="#2a70c6"/>
<path d="M424.52,295.06 L426.72,298.86 L422.32,298.86Z" fill="#2a70c6"/>
<path d="M450.98,288.59 L453.18,292.39 L448.78,292.39Z" fill="#2a70c6"/>
<path d="M490.67,285.10 L492.87,288.90 L488.47,288.90Z" fill="#2a70c6"/>
<polyline points="371.60,304.24 384.83,295.77 402.47,290.29 424.52,288.80 450.98,281.83 490.67,283.32" fill="none" stroke="#2a70c6" stroke-width="1"/>
<rect x="369.80" y="302.44" width="3.6" height="3.6" fill="#2a70c6"/>
<rect x="383.03" y="293.97" width="3.6" height="3.6" fill="#2a70c6"/>
<rect x="400.67" y="288.49" width="3.6" height="3.6" fill="#2a70c6"/>
<rect x="422.72" y="287.00" width="3.6" height="3.6" fill="#2a70c6"/>
<rect x="449.18" y="280.03" width="3.6" height="3.6" fill="#2a70c6"/>
<rect x="488.87" y="281.52" width="3.6" height="3.6" fill="#2a70c6"/>
<line x1="547.10" y1="313.00" x2="679.00" y2="313.00" stroke="#e3e3e3" stroke-width="0.8" />
<line x1="547.10" y1="303.00" x2="679.00" y2="303.00" stroke="#e3e3e3" stroke-width="0.8" />
<line x1="547.10" y1="293.00" x2="679.00" y2="293.00" stroke="#e3e3e3" stroke-width="0.8" />
<line x1="547.10" y1="283.00" x2="679.00" y2="283.00" stroke="#e3e3e3" stroke-width="0.8" />
<line x1="547.10" y1="273.00" x2="679.00" y2="273.00" stroke="#e3e3e3" stroke-width="0.8" />
<line x1="547.10" y1="253.00" x2="679.00" y2="253.00" stroke="#e3e3e3" stroke-width="0.8" />
<text x="542.10" y="315.00" font-size="5.6" text-anchor="end" font-weight="normal" fill="#595959"  stroke="#595959" stroke-width="0.12">0.0</text>
<text x="542.10" y="305.00" font-size="5.6" text-anchor="end" font-weight="normal" fill="#595959"  stroke="#595959" stroke-width="0.12">0.2</text>
<text x="542.10" y="295.00" font-size="5.6" text-anchor="end" font-weight="normal" fill="#595959"  stroke="#595959" stroke-width="0.12">0.4</text>
<text x="542.10" y="285.00" font-size="5.6" text-anchor="end" font-weight="normal" fill="#595959"  stroke="#595959" stroke-width="0.12">0.6</text>
<text x="542.10" y="275.00" font-size="5.6" text-anchor="end" font-weight="normal" fill="#595959"  stroke="#595959" stroke-width="0.12">0.8</text>
<text x="542.10" y="265.00" font-size="5.6" text-anchor="end" font-weight="bold" fill="#222"  stroke="#222" stroke-width="0.15">1.0</text>
<text x="542.10" y="255.00" font-size="5.6" text-anchor="end" font-weight="normal" fill="#595959"  stroke="#595959" stroke-width="0.12">1.2</text>
<line x1="547.10" y1="253.00" x2="547.10" y2="313.00" stroke="#e3e3e3" stroke-width="0.8" />
<text x="547.10" y="322.00" font-size="5.6" text-anchor="middle" font-weight="normal" fill="#595959"  stroke="#595959" stroke-width="0.12">10</text>
<text x="569.10" y="322.00" font-size="5.6" text-anchor="middle" font-weight="normal" fill="#595959"  stroke="#595959" stroke-width="0.12">15</text>
<text x="591.10" y="322.00" font-size="5.6" text-anchor="middle" font-weight="normal" fill="#595959"  stroke="#595959" stroke-width="0.12">20</text>
<text x="613.10" y="322.00" font-size="5.6" text-anchor="middle" font-weight="normal" fill="#595959"  stroke="#595959" stroke-width="0.12">25</text>
<text x="635.10" y="322.00" font-size="5.6" text-anchor="middle" font-weight="normal" fill="#595959"  stroke="#595959" stroke-width="0.12">30</text>
<text x="657.10" y="322.00" font-size="5.6" text-anchor="middle" font-weight="normal" fill="#595959"  stroke="#595959" stroke-width="0.12">35</text>
<text x="679.10" y="322.00" font-size="5.6" text-anchor="middle" font-weight="normal" fill="#595959"  stroke="#595959" stroke-width="0.12">40</text>
<text x="613.10" y="328.70" font-size="6.2" text-anchor="middle" font-weight="normal" fill="#262626"  textLength="36.50" lengthAdjust="spacingAndGlyphs" stroke="#262626" stroke-width="0.12">Ø Sphere (mm)</text>
<text x="0" y="0" font-size="5.8" fill="#262626" text-anchor="middle" transform="translate(532.5,283.00) rotate(-90)">RC max</text>
<line x1="547.10" y1="263.00" x2="684.00" y2="263.00" stroke="#666" stroke-width="1.4" />
<polyline points="547.10,307.00 560.30,302.50 577.90,290.00 599.90,287.00 626.30,271.00 665.90,266.00" fill="none" stroke="#e01f26" stroke-width="1"/>
<path d="M547.10,304.80 L549.30,307.00 L547.10,309.20 L544.90,307.00Z" fill="#e01f26"/>
<path d="M560.30,300.30 L562.50,302.50 L560.30,304.70 L558.10,302.50Z" fill="#e01f26"/>
<path d="M577.90,287.80 L580.10,290.00 L577.90,292.20 L575.70,290.00Z" fill="#e01f26"/>
<path d="M599.90,284.80 L602.10,287.00 L599.90,289.20 L597.70,287.00Z" fill="#e01f26"/>
<path d="M626.30,268.80 L628.50,271.00 L626.30,273.20 L624.10,271.00Z" fill="#e01f26"/>
<path d="M665.90,263.80 L668.10,266.00 L665.90,268.20 L663.70,266.00Z" fill="#e01f26"/>
<polyline points="547.10,306.00 560.30,298.00 577.90,290.00 599.90,288.00 626.30,270.50 665.90,263.00" fill="none" stroke="#e01f26" stroke-width="1"/>
<path d="M547.10,303.80 L549.30,307.60 L544.90,307.60Z" fill="#e01f26"/>
<path d="M560.30,295.80 L562.50,299.60 L558.10,299.60Z" fill="#e01f26"/>
<path d="M577.90,287.80 L580.10,291.60 L575.70,291.60Z" fill="#e01f26"/>
<path d="M599.90,285.80 L602.10,289.60 L597.70,289.60Z" fill="#e01f26"/>
<path d="M626.30,268.30 L628.50,272.10 L624.10,272.10Z" fill="#e01f26"/>
<path d="M665.90,260.80 L668.10,264.60 L663.70,264.60Z" fill="#e01f26"/>
<polyline points="547.10,307.50 560.30,293.50 577.90,290.50 599.90,286.00 626.30,271.00 665.90,256.00" fill="none" stroke="#e01f26" stroke-width="1"/>
<rect x="545.30" y="305.70" width="3.6" height="3.6" fill="#e01f26"/>
<rect x="558.50" y="291.70" width="3.6" height="3.6" fill="#e01f26"/>
<rect x="576.10" y="288.70" width="3.6" height="3.6" fill="#e01f26"/>
<rect x="598.10" y="284.20" width="3.6" height="3.6" fill="#e01f26"/>
<rect x="624.50" y="269.20" width="3.6" height="3.6" fill="#e01f26"/>
<rect x="664.10" y="254.20" width="3.6" height="3.6" fill="#e01f26"/>
<polyline points="547.10,304.00 560.30,296.50 577.90,287.50 599.90,273.00 626.30,265.00 665.90,253.50" fill="none" stroke="#21b04e" stroke-width="1"/>
<rect x="545.30" y="302.20" width="3.6" height="3.6" fill="#21b04e"/>
<rect x="558.50" y="294.70" width="3.6" height="3.6" fill="#21b04e"/>
<rect x="576.10" y="285.70" width="3.6" height="3.6" fill="#21b04e"/>
<rect x="598.10" y="271.20" width="3.6" height="3.6" fill="#21b04e"/>
<rect x="624.50" y="263.20" width="3.6" height="3.6" fill="#21b04e"/>
<rect x="664.10" y="251.70" width="3.6" height="3.6" fill="#21b04e"/>
<polyline points="547.10,305.50 560.30,298.00 577.90,293.50 599.90,289.00 626.30,269.50 665.90,263.50" fill="none" stroke="#2a70c6" stroke-width="1"/>
<path d="M547.10,303.30 L549.30,307.10 L544.90,307.10Z" fill="#2a70c6"/>
<path d="M560.30,295.80 L562.50,299.60 L558.10,299.60Z" fill="#2a70c6"/>
<path d="M577.90,291.30 L580.10,295.10 L575.70,295.10Z" fill="#2a70c6"/>
<path d="M599.90,286.80 L602.10,290.60 L597.70,290.60Z" fill="#2a70c6"/>
<path d="M626.30,267.30 L628.50,271.10 L624.10,271.10Z" fill="#2a70c6"/>
<path d="M665.90,261.30 L668.10,265.10 L663.70,265.10Z" fill="#2a70c6"/>
<polyline points="547.10,299.00 560.30,282.00 577.90,274.00 599.90,269.00 626.30,254.00 665.90,258.00" fill="none" stroke="#2a70c6" stroke-width="1"/>
<rect x="545.30" y="297.20" width="3.6" height="3.6" fill="#2a70c6"/>
<rect x="558.50" y="280.20" width="3.6" height="3.6" fill="#2a70c6"/>
<rect x="576.10" y="272.20" width="3.6" height="3.6" fill="#2a70c6"/>
<rect x="598.10" y="267.20" width="3.6" height="3.6" fill="#2a70c6"/>
<rect x="624.50" y="252.20" width="3.6" height="3.6" fill="#2a70c6"/>
<rect x="664.10" y="256.20" width="3.6" height="3.6" fill="#2a70c6"/>
<line x1="16.30" y1="346.10" x2="27.10" y2="346.10" stroke="#f0272d" stroke-width="1" stroke-opacity="0.75"/>
<circle cx="21.70" cy="346.10" r="1.6" fill="#f0272d"/>
<text x="28.20" y="349.10" font-size="8.2" text-anchor="start" font-weight="normal" fill="#262626"  textLength="58.90" lengthAdjust="spacingAndGlyphs" stroke="#262626" stroke-width="0.15">StarGuide - Quant.</text>
<line x1="16.30" y1="361.00" x2="27.10" y2="361.00" stroke="#4be23f" stroke-width="1" stroke-opacity="0.75"/>
<circle cx="21.70" cy="361.00" r="1.6" fill="#4be23f"/>
<text x="28.20" y="364.00" font-size="8.2" text-anchor="start" font-weight="normal" fill="#262626"  textLength="44.00" lengthAdjust="spacingAndGlyphs" stroke="#262626" stroke-width="0.15">V200 - Quant.</text>
<line x1="16.30" y1="375.90" x2="27.10" y2="375.90" stroke="#25bdf0" stroke-width="1" stroke-opacity="0.75"/>
<circle cx="21.70" cy="375.90" r="1.6" fill="#25bdf0"/>
<text x="28.20" y="378.90" font-size="8.2" text-anchor="start" font-weight="normal" fill="#262626"  textLength="44.00" lengthAdjust="spacingAndGlyphs" stroke="#262626" stroke-width="0.15">V400 - Quant.</text>
<line x1="358.90" y1="345.70" x2="370.20" y2="345.70" stroke="#e01f26" stroke-width="1" stroke-opacity="0.75"/>
<rect x="363.05" y="344.20" width="3" height="3" fill="#e01f26"/>
<text x="371.50" y="348.70" font-size="8.2" text-anchor="start" font-weight="normal" fill="#262626"  textLength="94.60" lengthAdjust="spacingAndGlyphs" stroke="#262626" stroke-width="0.15">StarGuide - Visual/Quant.113</text>
<line x1="358.90" y1="360.10" x2="370.20" y2="360.10" stroke="#e01f26" stroke-width="1" stroke-opacity="0.75"/>
<path d="M364.55,358.30 L366.35,360.10 L364.55,361.90 L362.75,360.10Z" fill="#e01f26"/>
<text x="371.50" y="363.10" font-size="8.2" text-anchor="start" font-weight="normal" fill="#262626"  textLength="94.60" lengthAdjust="spacingAndGlyphs" stroke="#262626" stroke-width="0.15">StarGuide - Visual/Quant.208</text>
<line x1="358.90" y1="374.50" x2="370.20" y2="374.50" stroke="#e01f26" stroke-width="1" stroke-opacity="0.75"/>
<path d="M364.55,372.70 L366.35,375.80 L362.75,375.80Z" fill="#e01f26"/>
<text x="371.50" y="377.50" font-size="8.2" text-anchor="start" font-weight="normal" fill="#262626"  textLength="114.80" lengthAdjust="spacingAndGlyphs" stroke="#262626" stroke-width="0.15">StarGuide - Visual/Quant.113 + 208</text>
<line x1="518.90" y1="345.80" x2="529.70" y2="345.80" stroke="#21b04e" stroke-width="1" stroke-opacity="0.75"/>
<rect x="522.80" y="344.30" width="3" height="3" fill="#21b04e"/>
<text x="531.00" y="348.80" font-size="8.2" text-anchor="start" font-weight="normal" fill="#262626"  textLength="59.50" lengthAdjust="spacingAndGlyphs" stroke="#262626" stroke-width="0.15">V200 – Quant. 113</text>
<line x1="518.90" y1="360.10" x2="529.70" y2="360.10" stroke="#2a70c6" stroke-width="1" stroke-opacity="0.75"/>
<rect x="522.80" y="358.60" width="3" height="3" fill="#2a70c6"/>
<text x="531.00" y="363.10" font-size="8.2" text-anchor="start" font-weight="normal" fill="#262626"  textLength="59.50" lengthAdjust="spacingAndGlyphs" stroke="#262626" stroke-width="0.15">V400 – Quant. 113</text>
<line x1="518.90" y1="374.40" x2="529.70" y2="374.40" stroke="#2a70c6" stroke-width="1" stroke-opacity="0.75"/>
<path d="M524.30,372.60 L526.10,375.70 L522.50,375.70Z" fill="#2a70c6"/>
<text x="531.00" y="377.40" font-size="8.2" text-anchor="start" font-weight="normal" fill="#262626"  textLength="104.00" lengthAdjust="spacingAndGlyphs" stroke="#262626" stroke-width="0.15">V400 – Visual/Quant. 113 &amp; 208</text>
</svg>
</body></html>
